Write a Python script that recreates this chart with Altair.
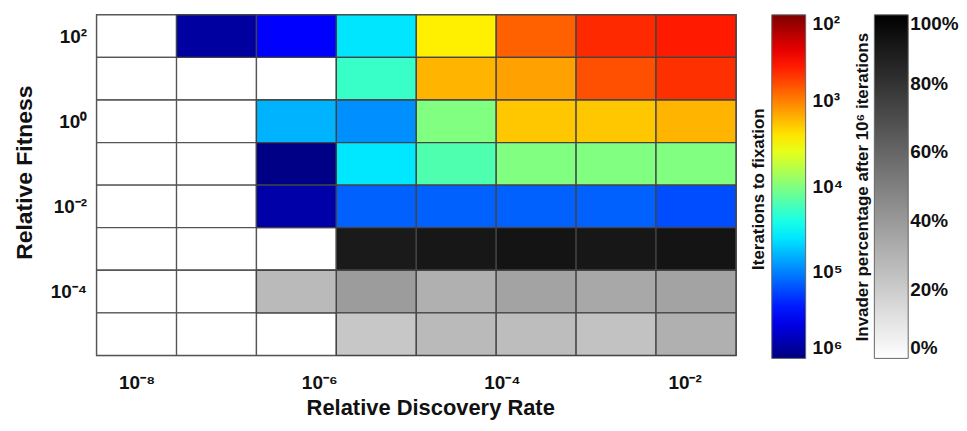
import altair as alt
import pandas as pd

# ---- data ----
# rows: relative fitness exponent (10^k), top to bottom
fitness_exp = [2, 1, 0, -1, -2, -3, -4, -5]
# columns: log10 relative discovery rate, bin edges
rate_lo = [-8.4375, -7.5625, -6.6875, -5.8125, -4.9375, -4.0625, -3.1875, -2.3125]
rate_hi = [-7.5625, -6.6875, -5.8125, -4.9375, -4.0625, -3.1875, -2.3125, -1.4375]

# log10(iterations to fixation); None = did not fix
iter_log_r2 = [None, 5.87, 5.50, 4.60, 3.44, 2.88, 2.66, 2.60]
iter_log_r1 = [None, None, None, 4.28, 3.21, 3.13, 2.81, 2.69]
iter_log_r0 = [None, None, 4.80, 4.94, 4.00, 3.28, 3.28, 3.21]
iter_log_m1 = [None, None, 5.97, 4.59, 4.19, 4.00, 4.00, 4.00]
iter_log_m2 = [None, None, 5.84, 5.12, 5.12, 5.12, 5.12, 5.20]
iter_log_m3 = [None] * 8
iter_log_m4 = [None] * 8
iter_log_m5 = [None] * 8

# invader percentage after 10^6 iterations (%); None = not shown
pct_r2 = [None] * 8
pct_r1 = [None] * 8
pct_r0 = [None] * 8
pct_m1 = [None] * 8
pct_m2 = [None] * 8
pct_m3 = [None, None, None, 90, 91, 92, 91, 92]
pct_m4 = [None, None, 27, 39, 31, 36, 34, 36]
pct_m5 = [None, None, None, 22, 27, 26, 24, 31]

iter_rows = [iter_log_r2, iter_log_r1, iter_log_r0, iter_log_m1,
             iter_log_m2, iter_log_m3, iter_log_m4, iter_log_m5]
pct_rows = [pct_r2, pct_r1, pct_r0, pct_m1, pct_m2, pct_m3, pct_m4, pct_m5]

x_tick_vals = [-8, -6, -4, -2]
x_tick_text = ["10⁻⁸", "10⁻⁶", "10⁻⁴", "10⁻²"]
y_tick_vals = [2, 0, -2, -4]
y_tick_text = ["10²", "10⁰", "10⁻²", "10⁻⁴"]
jet_vals = [-6, -5, -4, -3, -2]          # negative log10 iterations
jet_text = ["10⁶", "10⁵", "10⁴", "10³", "10²"]
pct_vals = [0, 20, 40, 60, 80, 100]

jet_title = "Iterations to fixation"
gray_title = "Invader percentage after 10⁶ iterations"

jet_domain = [-6, -5.5, -4.5, -3.5, -2.5, -2]
jet_colors = ["#00007F", "#0000FF", "#00FFFF", "#FFFF00", "#FF0000", "#7F0000"]

rows = []
for fi, f in enumerate(fitness_exp):
    for ci in range(8):
        il = iter_rows[fi][ci]
        pc = pct_rows[fi][ci]
        rows.append({
            "x0": rate_lo[ci], "x1": rate_hi[ci],
            "y0": f - 0.5, "y1": f + 0.5,
            "neglog": (-il if il is not None else None),
            "pct": pc,
        })
df = pd.DataFrame(rows)


def label_expr(vals, texts):
    e = "''"
    for v, t in zip(reversed(vals), reversed(texts)):
        e = f"datum.value == {v} ? '{t}' : ({e})"
    return e


FONT = "Liberation Sans"

x_enc = alt.X("x0:Q", scale=alt.Scale(domain=[-8.4375, -1.4375], nice=False, zero=False),
              axis=alt.Axis(values=x_tick_vals, labelExpr=label_expr(x_tick_vals, x_tick_text),
                            title="Relative Discovery Rate", ticks=False, domain=False, grid=False,
                            labelFontSize=19, labelFontWeight="bold", labelFont=FONT,
                            labelPadding=18, titleFontSize=22, titleFontWeight="bold",
                            titleFont=FONT, titlePadding=5, titleX=335,
                            titleColor="#111", labelColor="#111"))
x2_enc = alt.X2("x1:Q")
y_enc = alt.Y("y0:Q", scale=alt.Scale(domain=[-5.5, 2.5], nice=False, zero=False),
              axis=alt.Axis(values=y_tick_vals, labelExpr=label_expr(y_tick_vals, y_tick_text),
                            title="Relative Fitness", ticks=False, domain=False, grid=False,
                            labelFontSize=19, labelFontWeight="bold", labelFont=FONT,
                            labelPadding=10, titleFontSize=23, titleFontWeight="bold",
                            titleFont=FONT, titlePadding=14, titleY=158,
                            titleColor="#111", labelColor="#111"))
y2_enc = alt.Y2("y1:Q")

base = alt.Chart(df).mark_rect(fill="white", stroke="#555", strokeWidth=1.3).encode(
    x=x_enc, x2=x2_enc, y=y_enc, y2=y2_enc)

jet = alt.Chart(df).transform_filter("isValid(datum.neglog)").mark_rect(
    stroke="#444", strokeWidth=1.3).encode(
    x=x_enc, x2=x2_enc, y=y_enc, y2=y2_enc,
    color=alt.Color("neglog:Q",
                    scale=alt.Scale(domain=jet_domain, range=jet_colors, interpolate="rgb"),
                    legend=alt.Legend(
                        title=None, orient="none", legendX=678, legendY=0,
                        direction="vertical", gradientLength=345, gradientThickness=34,
                        values=jet_vals, labelExpr=label_expr(jet_vals, jet_text),
                        labelFontSize=19, labelFontWeight="bold", labelFont=FONT,
                        labelOffset=7, labelColor="#111", labelBaseline="middle",
                        gradientStrokeColor="#666", gradientStrokeWidth=1)))

gray = alt.Chart(df).transform_filter("isValid(datum.pct)").mark_rect(
    stroke="#444", strokeWidth=1.3).encode(
    x=x_enc, x2=x2_enc, y=y_enc, y2=y2_enc,
    color=alt.Color("pct:Q",
                    scale=alt.Scale(domain=[0, 100], range=["#FFFFFF", "#000000"], interpolate="rgb"),
                    legend=alt.Legend(
                        title=None, orient="none", legendX=781, legendY=0,
                        direction="vertical", gradientLength=345, gradientThickness=34,
                        values=pct_vals, labelExpr="datum.value + '%'",
                        labelFontSize=19, labelFontWeight="bold", labelFont=FONT,
                        labelOffset=2, labelColor="#111", labelBaseline="middle",
                        gradientStrokeColor="#666", gradientStrokeWidth=1)))

t1 = alt.Chart(pd.DataFrame({"t": [jet_title]})).mark_text(
    angle=270, font=FONT, fontSize=17, fontWeight="bold", color="#111",
    align="center", baseline="middle").encode(
    x=alt.value(665), y=alt.value(175), text="t:N")
t2 = alt.Chart(pd.DataFrame({"t": [gray_title]})).mark_text(
    angle=270, font=FONT, fontSize=17, fontWeight="bold", color="#111",
    align="center", baseline="middle").encode(
    x=alt.value(770), y=alt.value(173), text="t:N")

chart = alt.layer(base, jet, gray, t1, t2).resolve_scale(color="independent").properties(
    width=642, height=342,
    autosize=alt.AutoSizeParams(type="none"),
    padding={"left": 89, "top": 6, "right": 224, "bottom": 67},
    background="white",
).configure_view(stroke="#333", strokeWidth=1.5)

chart.save("out.html", embed_options={"renderer": "svg", "actions": False})
